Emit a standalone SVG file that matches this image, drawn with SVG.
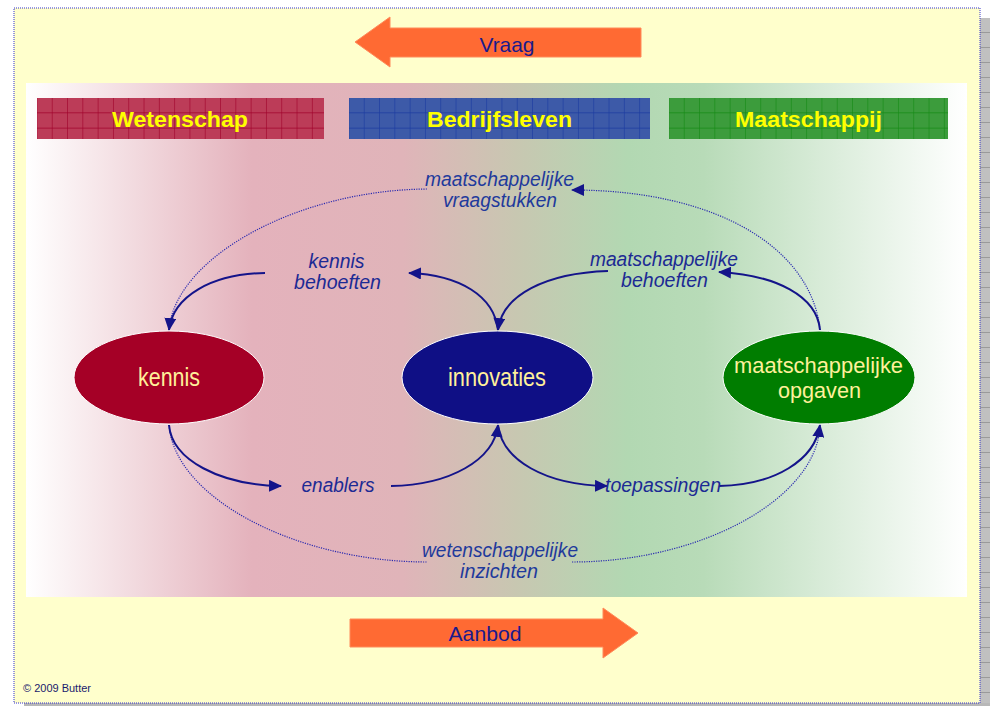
<svg xmlns="http://www.w3.org/2000/svg" width="990" height="706" viewBox="0 0 990 706">
<defs>
  <linearGradient id="band" gradientUnits="userSpaceOnUse" x1="26" y1="0" x2="967" y2="0">
    <stop offset="0" stop-color="#ffffff"/>
    <stop offset="0.24" stop-color="#e4b2bc"/>
    <stop offset="0.40" stop-color="#e0b4b9"/>
    <stop offset="0.52" stop-color="#c8c7b1"/>
    <stop offset="0.64" stop-color="#b2d8b2"/>
    <stop offset="0.72" stop-color="#b8dbb8"/>
    <stop offset="1" stop-color="#ffffff"/>
  </linearGradient>
  <pattern id="gridR" patternUnits="userSpaceOnUse" x="37.4" y="98" width="15.3" height="15.3">
    <rect width="15.3" height="15.3" fill="#bc3c58"/>
    <path d="M15.3,0V15.3M0,15.3H15.3" stroke="#a0002a" stroke-width="1.2"/>
  </pattern>
  <pattern id="gridB" patternUnits="userSpaceOnUse" x="349.4" y="98" width="15.3" height="15.3">
    <rect width="15.3" height="15.3" fill="#3d5aa8"/>
    <path d="M15.3,0V15.3M0,15.3H15.3" stroke="#1a3aa0" stroke-width="1.2"/>
  </pattern>
  <pattern id="gridG" patternUnits="userSpaceOnUse" x="669.4" y="98" width="15.3" height="15.3">
    <rect width="15.3" height="15.3" fill="#3c9c3c"/>
    <path d="M15.3,0V15.3M0,15.3H15.3" stroke="#148a14" stroke-width="1.2"/>
  </pattern>
  <pattern id="shadowLines" patternUnits="userSpaceOnUse" x="980" y="18" width="10" height="15">
    <rect width="10" height="15" fill="#c0c0c0"/>
    <path d="M0,14.5H10" stroke="#9a9a9a" stroke-width="1"/>
  </pattern>
  <marker id="ah" markerUnits="userSpaceOnUse" markerWidth="14" markerHeight="12" viewBox="0 0 14 12" refX="12" refY="6" orient="auto">
    <path d="M0,0 L13,6 L0,12 Z" fill="#14148a"/>
  </marker>
</defs>
<style>
  .conn { fill: none; stroke: #14148a; stroke-width: 2; }
  .dot { fill: none; stroke: #2a2ab0; stroke-width: 1.2; stroke-dasharray: 1.2 1.2; }
  .lbl { font-family: "Liberation Sans", Arial, sans-serif; font-style: italic; font-size: 20px; fill: #1c2a94; text-anchor: middle; }
  .lbl2 { fill: #1f3a9c; }
  .hdr { font-family: "Liberation Sans", Arial, sans-serif; font-weight: bold; font-size: 22px; fill: #ffff00; text-anchor: middle; }
  .node { font-family: "Liberation Sans", Arial, sans-serif; fill: #fff09a; text-anchor: middle; }
  .arr { font-family: "Liberation Sans", Arial, sans-serif; font-size: 21px; fill: #1a1a8c; text-anchor: middle; }
</style>

<!-- background panel -->
<rect x="980" y="18" width="10" height="688" fill="url(#shadowLines)"/>
<rect x="24" y="703" width="966" height="3" fill="#b8b8b8"/>
<rect x="14" y="8" width="966" height="695" fill="#ffffcc" stroke="#3333cc" stroke-width="1" stroke-dasharray="1 1"/>
<rect x="26" y="83" width="941" height="514" fill="url(#band)"/>

<!-- Vraag arrow -->
<g id="vraag">
  <path d="M355,42 L390,17 L390,28 L641,28 L641,57 L390,57 L390,67 Z" fill="#ff6a33" stroke="#ff8a5a" stroke-width="1"/>
  <text class="arr" x="507" y="52" textLength="55" lengthAdjust="spacingAndGlyphs">Vraag</text>
</g>

<!-- Aanbod arrow -->
<g id="aanbod">
  <path d="M638,633 L603,608 L603,619 L350,619 L350,647 L603,647 L603,658 Z" fill="#ff6a33" stroke="#ff8a5a" stroke-width="1"/>
  <text class="arr" x="485" y="641" textLength="73" lengthAdjust="spacingAndGlyphs">Aanbod</text>
</g>

<!-- header bars -->
<g id="wetenschap">
  <rect x="37" y="98" width="287" height="41" fill="url(#gridR)"/>
  <text class="hdr" x="180" y="127" textLength="136" lengthAdjust="spacingAndGlyphs">Wetenschap</text>
</g>
<g id="bedrijfsleven">
  <rect x="349" y="98" width="301" height="41" fill="url(#gridB)"/>
  <text class="hdr" x="499.5" y="127" textLength="145" lengthAdjust="spacingAndGlyphs">Bedrijfsleven</text>
</g>
<g id="maatschappij">
  <rect x="669" y="98" width="279" height="41" fill="url(#gridG)"/>
  <text class="hdr" x="808.5" y="127" textLength="147" lengthAdjust="spacingAndGlyphs">Maatschappij</text>
</g>

<!-- connectors -->
<g id="connectors">
  <path class="dot" d="M427,189 C300,190 178,255 169,328"/>
  <path class="dot" d="M820,330 C812,250 720,190 572,190" marker-end="url(#ah)"/>
  <path class="dot" d="M169,425 C175,500 300,562 427,562"/>
  <path class="dot" d="M572,562 C700,562 815,500 820,427"/>

  <path class="conn" d="M265,273 C212,274 173,296 169,330" marker-end="url(#ah)"/>
  <path class="conn" d="M498,330 C494,296 460,275 409,273" marker-end="url(#ah)"/>
  <path class="conn" d="M608,271 C546,273 502,295 498,330" marker-end="url(#ah)"/>
  <path class="conn" d="M820,330 C817,296 776,275 719,272" marker-end="url(#ah)"/>

  <path class="conn" d="M169,425 C172,460 220,485 281,486" marker-end="url(#ah)"/>
  <path class="conn" d="M391,486 C450,485 494,460 498,425" marker-end="url(#ah)"/>
  <path class="conn" d="M498,425 C502,460 545,485 607,486" marker-end="url(#ah)"/>
  <path class="conn" d="M719,486 C775,485 815,460 820,425" marker-end="url(#ah)"/>
</g>

<!-- labels -->
<g id="lbl-vraagstukken">
  <text class="lbl lbl2" x="499.5" y="186" textLength="149" lengthAdjust="spacingAndGlyphs">maatschappelijke</text>
  <text class="lbl lbl2" x="500" y="207" textLength="114" lengthAdjust="spacingAndGlyphs">vraagstukken</text>
</g>
<g id="lbl-kennisbehoeften">
  <text class="lbl" x="336.5" y="268" textLength="56" lengthAdjust="spacingAndGlyphs">kennis</text>
  <text class="lbl" x="337.5" y="289" textLength="87" lengthAdjust="spacingAndGlyphs">behoeften</text>
</g>
<g id="lbl-maatschbehoeften">
  <text class="lbl" x="664" y="266" textLength="148" lengthAdjust="spacingAndGlyphs">maatschappelijke</text>
  <text class="lbl" x="664.5" y="287" textLength="87" lengthAdjust="spacingAndGlyphs">behoeften</text>
</g>
<g id="lbl-enablers">
  <text class="lbl" x="338" y="492" textLength="73" lengthAdjust="spacingAndGlyphs">enablers</text>
</g>
<g id="lbl-toepassingen">
  <text class="lbl" x="663" y="492" textLength="116" lengthAdjust="spacingAndGlyphs">toepassingen</text>
</g>
<g id="lbl-inzichten">
  <text class="lbl lbl2" x="500" y="557" textLength="156" lengthAdjust="spacingAndGlyphs">wetenschappelijke</text>
  <text class="lbl lbl2" x="499" y="578" textLength="78" lengthAdjust="spacingAndGlyphs">inzichten</text>
</g>

<!-- nodes -->
<g id="kennis">
  <ellipse cx="169" cy="377.5" rx="95" ry="46.5" fill="#a50026" stroke="#ffffff" stroke-width="1"/>
  <text class="node" x="169" y="386" font-size="25" textLength="62" lengthAdjust="spacingAndGlyphs">kennis</text>
</g>
<g id="innovaties">
  <ellipse cx="497.5" cy="377.5" rx="95.5" ry="46.5" fill="#0f0f85" stroke="#ffffff" stroke-width="1"/>
  <text class="node" x="497" y="386" font-size="25" textLength="98" lengthAdjust="spacingAndGlyphs">innovaties</text>
</g>
<g id="maatschappelijke-opgaven">
  <ellipse cx="819" cy="377.5" rx="96" ry="46.5" fill="#007d00" stroke="#ffffff" stroke-width="1"/>
  <text class="node" x="818.5" y="373" font-size="22" textLength="169" lengthAdjust="spacingAndGlyphs">maatschappelijke</text>
  <text class="node" x="819.5" y="398" font-size="22" textLength="83" lengthAdjust="spacingAndGlyphs">opgaven</text>
</g>

<text x="23" y="692" font-family="Liberation Sans, Arial, sans-serif" font-size="11" fill="#1a1a6c" textLength="68" lengthAdjust="spacingAndGlyphs">© 2009 Butter</text>
</svg>
